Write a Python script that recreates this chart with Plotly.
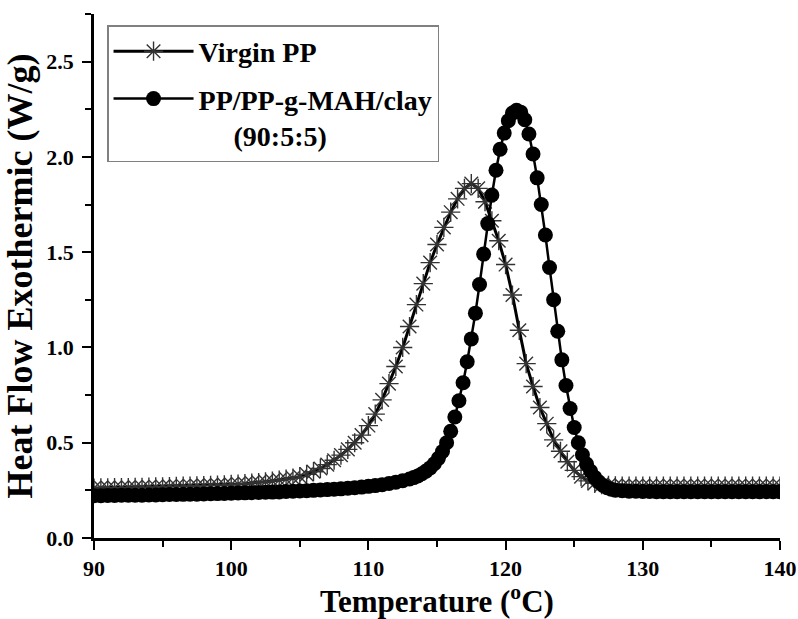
import plotly.graph_objects as go

# ---------------- data ----------------
virgin_temp = [
    90.0, 90.5, 91.0, 91.5, 92.0, 92.5, 93.0, 93.5, 94.0, 94.5,
    95.0, 95.5, 96.0, 96.5, 97.0, 97.5, 98.0, 98.5, 99.0, 99.5,
    100.0, 100.5, 101.0, 101.5, 102.0, 102.5, 103.0, 103.5, 104.0, 104.5,
    105.0, 105.5, 106.0, 106.5, 107.0, 107.5, 108.0, 108.5, 109.0, 109.5,
    110.0, 110.5, 111.0, 111.5, 112.0, 112.5, 113.0, 113.5, 114.0, 114.5,
    115.0, 115.5, 116.0, 116.5, 117.0, 117.5, 118.0, 118.5, 119.0, 119.5,
    120.0, 120.5, 121.0, 121.5, 122.0, 122.5, 123.0, 123.5, 124.0, 124.5,
    125.0, 125.5, 126.0, 126.5, 127.0, 127.5, 128.0, 128.5, 129.0, 129.5,
    130.0, 130.5, 131.0, 131.5, 132.0, 132.5, 133.0, 133.5, 134.0, 134.5,
    135.0, 135.5, 136.0, 136.5, 137.0, 137.5, 138.0, 138.5, 139.0, 139.5,
    140.0,
]
virgin_heat = [
    0.262, 0.263, 0.263, 0.264, 0.264, 0.265, 0.266, 0.266, 0.267, 0.268,
    0.269, 0.270, 0.271, 0.272, 0.273, 0.274, 0.275, 0.276, 0.277, 0.279,
    0.281, 0.283, 0.285, 0.288, 0.291, 0.295, 0.299, 0.304, 0.309, 0.315,
    0.322, 0.334, 0.348, 0.365, 0.385, 0.408, 0.435, 0.465, 0.500, 0.540,
    0.590, 0.650, 0.725, 0.810, 0.900, 1.000, 1.110, 1.225, 1.335, 1.445,
    1.540, 1.630, 1.710, 1.780, 1.835, 1.860, 1.835, 1.765, 1.665, 1.560,
    1.435, 1.275, 1.090, 0.915, 0.795, 0.685, 0.600, 0.515, 0.455, 0.400,
    0.355, 0.322, 0.300, 0.287, 0.280, 0.276, 0.274, 0.273, 0.273, 0.273,
    0.273, 0.273, 0.273, 0.273, 0.273, 0.273, 0.273, 0.273, 0.273, 0.273,
    0.273, 0.273, 0.273, 0.273, 0.273, 0.273, 0.273, 0.273, 0.273, 0.273,
    0.273,
]

clay_temp = [
    90.0, 90.5, 91.0, 91.5, 92.0, 92.5, 93.0, 93.5, 94.0, 94.5,
    95.0, 95.5, 96.0, 96.5, 97.0, 97.5, 98.0, 98.5, 99.0, 99.5,
    100.0, 100.5, 101.0, 101.5, 102.0, 102.5, 103.0, 103.5, 104.0, 104.5,
    105.0, 105.5, 106.0, 106.5, 107.0, 107.5, 108.0, 108.5, 109.0, 109.5,
    110.0, 110.5, 111.0, 111.5, 112.0, 112.5, 113.0,
    113.3, 113.6, 113.9, 114.2, 114.5, 114.8, 115.1, 115.4, 115.7, 116.0,
    116.3, 116.6, 116.9, 117.2, 117.5, 117.8, 118.1, 118.4, 118.7, 119.0,
    119.3, 119.6, 119.9, 120.2, 120.5, 120.8, 121.1, 121.4, 121.7, 122.0,
    122.3, 122.6, 122.9, 123.2, 123.5, 123.8, 124.1, 124.4, 124.7, 125.0,
    125.3, 125.6, 125.9, 126.2, 126.5, 126.8, 127.1, 127.4, 127.7, 128.0,
    128.5, 129.0, 129.5, 130.0, 130.5, 131.0, 131.5, 132.0, 132.5, 133.0,
    133.5, 134.0, 134.5, 135.0, 135.5, 136.0, 136.5, 137.0, 137.5, 138.0,
    138.5, 139.0, 139.5, 140.0,
]
clay_heat = [
    0.222, 0.222, 0.223, 0.223, 0.224, 0.224, 0.225, 0.225, 0.226, 0.226,
    0.227, 0.228, 0.228, 0.229, 0.230, 0.230, 0.231, 0.232, 0.233, 0.234,
    0.235, 0.236, 0.237, 0.238, 0.239, 0.240, 0.241, 0.242, 0.244, 0.245,
    0.247, 0.248, 0.250, 0.252, 0.254, 0.256, 0.258, 0.261, 0.264, 0.267,
    0.271, 0.275, 0.280, 0.286, 0.293, 0.301, 0.310,
    0.317, 0.326, 0.337, 0.351, 0.368, 0.390, 0.418, 0.454, 0.500, 0.560,
    0.635, 0.720, 0.815, 0.925, 1.045, 1.180, 1.330, 1.490, 1.650, 1.800,
    1.930, 2.040, 2.125, 2.190, 2.230, 2.245, 2.235, 2.195, 2.120, 2.015,
    1.890, 1.750, 1.590, 1.420, 1.250, 1.085, 0.935, 0.800, 0.680, 0.580,
    0.500, 0.437, 0.388, 0.350, 0.318, 0.294, 0.276, 0.264, 0.256, 0.251,
    0.248, 0.246, 0.245, 0.244, 0.244, 0.243, 0.243, 0.243, 0.243, 0.243,
    0.243, 0.243, 0.243, 0.243, 0.243, 0.243, 0.243, 0.243, 0.243, 0.243,
    0.243, 0.243, 0.243, 0.243,
]

series_names = ["Virgin PP", "PP/PP-g-MAH/clay"]
clay_ratio_label = "(90:5:5)"
x_ticks = [90, 100, 110, 120, 130, 140]
y_ticks = [0.0, 0.5, 1.0, 1.5, 2.0, 2.5]
y_tick_labels = ["0.0", "0.5", "1.0", "1.5", "2.0", "2.5"]

# ---------------- figure ----------------
FONT = "Liberation Serif, Times New Roman, serif"
NB = "\u00a0"

fig = go.Figure()
fig.add_trace(go.Scatter(
    x=virgin_temp, y=virgin_heat, name=series_names[0],
    legendgroup="a",
    mode="lines+markers",
    line=dict(color="black", width=3),
    marker=dict(symbol="asterisk-open", size=16, color="#333333",
                line=dict(color="#333333", width=1.4)),
))
fig.add_trace(go.Scatter(
    x=clay_temp, y=clay_heat,
    name=series_names[1] + "<br>" + NB * 5 + clay_ratio_label,
    legendgroup="b",
    mode="lines+markers",
    line=dict(color="black", width=2.5),
    marker=dict(symbol="circle", size=15, color="black",
                line=dict(color="black", width=0)),
))

axis_common = dict(
    showline=True, linecolor="black", linewidth=2.5,
    showgrid=False, zeroline=False, mirror=False,
    ticks="outside", ticklen=9, tickwidth=2, tickcolor="black",
    tickfont=dict(family=FONT, size=22, color="black", weight="bold"),
)

fig.update_xaxes(
    range=[90, 140], tickmode="array", tickvals=x_ticks,
    ticktext=[str(t) for t in x_ticks],
    minor=dict(ticks="outside", ticklen=6, tickwidth=2, tickcolor="black", dtick=5, tick0=90),
    title=dict(text="Temperature (<sup>o</sup>C)", standoff=12,
               font=dict(family=FONT, size=31, color="black", weight="bold")),
    **axis_common,
)
fig.update_yaxes(
    range=[0, 2.75], tickmode="array", tickvals=y_ticks, ticktext=y_tick_labels,
    minor=dict(ticks="outside", ticklen=6, tickwidth=2, tickcolor="black", dtick=0.25, tick0=0),
    ticklabelstandoff=4,
    title=dict(text="Heat Flow Exothermic (W/g)", standoff=4,
               font=dict(family=FONT, size=36, color="black", weight="bold")),
    **axis_common,
)

fig.update_layout(
    width=798, height=619,
    margin=dict(l=94, r=18, t=14, b=81, autoexpand=False),
    paper_bgcolor="white", plot_bgcolor="white",
    showlegend=True,
    legend=dict(
        x=0.019, y=0.979, xanchor="left", yanchor="top",
        bgcolor="white", bordercolor="#808080", borderwidth=1.5,
        font=dict(family=FONT, size=28, color="black", weight="bold"),
        itemwidth=80, valign="top", tracegroupgap=8,
    ),
)

fig.write_html("out.html", config={"displayModeBar": False},
               post_script="document.body.style.margin='0px';")
